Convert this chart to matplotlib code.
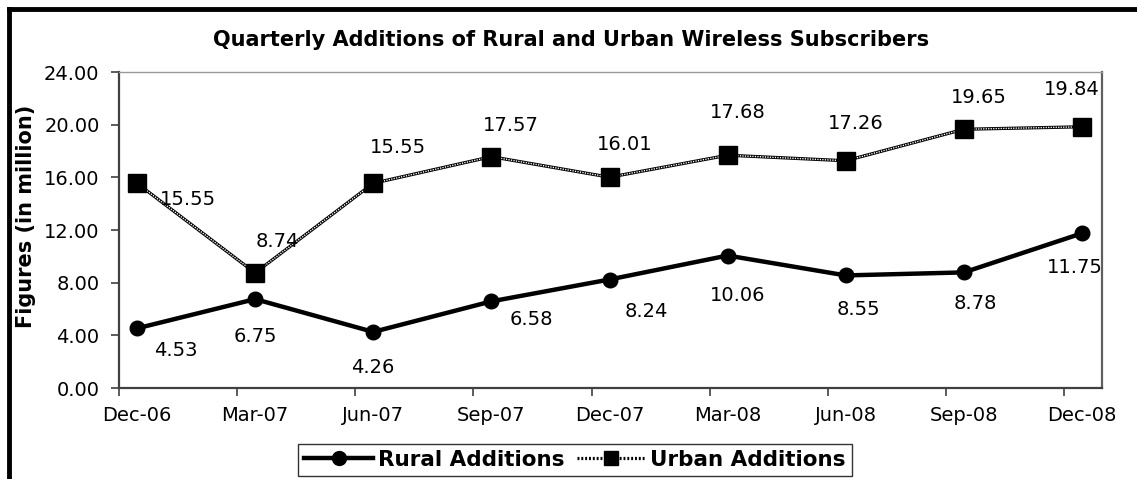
import matplotlib
matplotlib.use("Agg")
import matplotlib.pyplot as plt
from matplotlib.lines import Line2D
from matplotlib.ticker import FormatStrFormatter, FixedLocator

quarters = ["Dec-06", "Mar-07", "Jun-07", "Sep-07", "Dec-07", "Mar-08", "Jun-08", "Sep-08", "Dec-08"]
rural = [4.53, 6.75, 4.26, 6.58, 8.24, 10.06, 8.55, 8.78, 11.75]
urban = [15.55, 8.74, 15.55, 17.57, 16.01, 17.68, 17.26, 19.65, 19.84]

# label offsets in pixels (dx right, dy down)
rural_off = [(39, 22), (0, 37), (0, 36), (40, 18), (37, 32), (10, 40), (13, 34), (11, 31), (-7, 34)]
urban_off = [(51, 16), (22, -31), (25, -36), (19, -31), (15, -33), (10, -43), (10, -37), (15, -32), (-10, -37)]

plt.rcParams['font.family'] = ['DejaVu Sans']
FS = 14

fig = plt.figure(figsize=(11.37, 4.79), dpi=100)
ax = fig.add_axes([119/1137, 1-388/479, (1102-119)/1137, (388-72)/479])

x = list(range(len(quarters)))
ax.plot(x, rural, color='black', lw=3.2, marker='o', ms=10.5, zorder=3)
ax.plot(x, urban, color='black', lw=2.3, zorder=3)
ax.plot(x, urban, color='white', lw=1.0, ls=(0, (0.9, 0.9)), zorder=3.5)
ax.plot(x, urban, ls='none', color='black', marker='s', ms=12.5, zorder=4)

for xi, v, (dx, dy) in zip(x, rural, rural_off):
    ax.annotate(f"{v:.2f}", (xi, v), xytext=(dx, -dy), textcoords='offset pixels',
                ha='center', va='center', fontsize=FS, zorder=5)
for xi, v, (dx, dy) in zip(x, urban, urban_off):
    ax.annotate(f"{v:.2f}", (xi, v), xytext=(dx, -dy), textcoords='offset pixels',
                ha='center', va='center', fontsize=FS, zorder=5)

off = (137-119)/118.125
ax.set_xlim(-off, 8 + (1102-1082)/118.125)
ax.set_ylim(0, 24)
ax.set_yticks([0, 4, 8, 12, 16, 20, 24])
ax.yaxis.set_major_formatter(FormatStrFormatter('%.2f'))
ax.set_xticks(x)
ax.set_xticklabels(quarters)
ax.xaxis.set_minor_locator(FixedLocator([k - off for k in range(9)]))
ax.tick_params(axis='x', which='major', length=0, pad=13, labelsize=FS)
ax.tick_params(axis='x', which='minor', length=6, width=1.2, color='#404040', direction='out')
ax.tick_params(axis='y', which='major', length=6, width=1.2, color='#404040', labelsize=FS, pad=8)

for s in ['left', 'bottom']:
    ax.spines[s].set_color('#404040')
    ax.spines[s].set_linewidth(1.6)
ax.spines['top'].set_color('#999999')
ax.spines['top'].set_linewidth(1.0)
ax.spines['right'].set_color('#606060')
ax.spines['right'].set_linewidth(1.6)

fig.text(571/1137, 1-40/479, "Quarterly Additions of Rural and Urban Wireless Subscribers",
         ha='center', va='center', fontsize=15, fontweight='bold')
fig.text(26/1137, 1-216/479, "Figures (in million)", rotation=90, ha='center', va='center',
         fontsize=15, fontweight='bold')

# legend
h1 = Line2D([], [], color='black', lw=3.2, marker='o', ms=10)
h2 = Line2D([], [], color='black', lw=2.3, ls=(0, (0.6, 0.6)), marker='s', ms=10)
leg = fig.legend([h1, h2], ["Rural Additions", "Urban Additions"], loc='center',
                 bbox_to_anchor=(575/1137, 1-460/479), ncol=2, frameon=True, fancybox=False,
                 edgecolor='black', prop={'weight': 'bold', 'size': 15.5}, handlelength=3.2,
                 columnspacing=0.6, handletextpad=0.2, borderpad=0.3, borderaxespad=0)
leg.get_frame().set_linewidth(1.0)

# figure border (top and left)
fig.add_artist(Line2D([9/1137, 1], [1-9/479, 1-9/479], color='black', lw=3.5, transform=fig.transFigure))
fig.add_artist(Line2D([9/1137, 9/1137], [0, 1-9/479], color='black', lw=3.5, transform=fig.transFigure))

fig.savefig("out.png", dpi=100)
